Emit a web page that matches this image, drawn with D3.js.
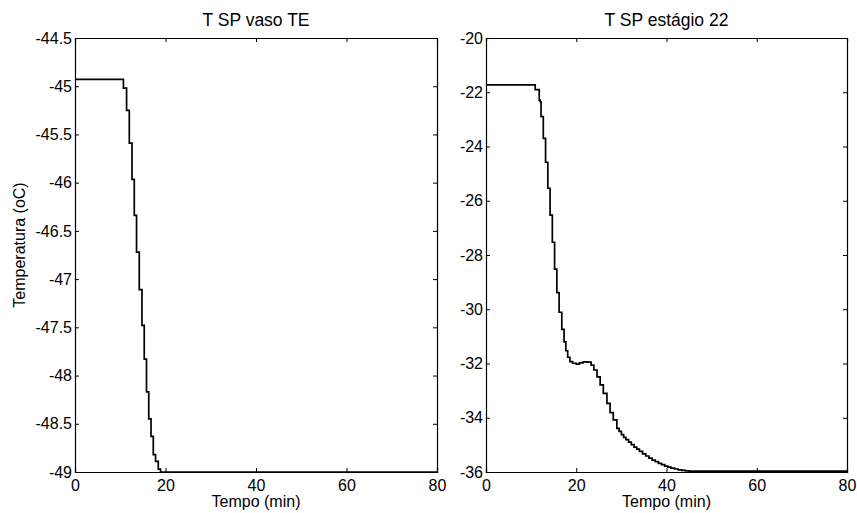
<!DOCTYPE html>
<html><head><meta charset="utf-8">
<script src="https://cdn.jsdelivr.net/npm/d3@7"></script>
<style>
html,body{margin:0;padding:0;background:#fff;}
text{font-family:"Liberation Sans",Arial,sans-serif;fill:#000;}
</style></head>
<body><svg id="chart" width="857" height="513"></svg>
<script>
// ---- data ----
const xTicks = [0, 20, 40, 60, 80];
const leftTitle = "T SP vaso TE";
const rightTitle = "T SP estágio 22";
const xLabel = "Tempo (min)";
const yLabel = "Temperatura (oC)";
const leftYTicks = [-44.5, -45, -45.5, -46, -46.5, -47, -47.5, -48, -48.5, -49];
const rightYTicks = [-20, -22, -24, -26, -28, -30, -32, -34, -36];

// left series (stairs): time (min), value
const leftT = [0, 10.7, 11.4, 12.0, 12.6, 13.1, 13.6, 14.2, 14.8, 15.3, 15.8, 16.3, 16.8, 17.3, 17.8, 18.4, 18.9, 80];
const leftV = [-44.93, -45.02, -45.25, -45.59, -45.965, -46.34, -46.72, -47.11, -47.48, -47.83, -48.17, -48.45, -48.63, -48.82, -48.89, -48.97, -49.0, -49.0];

// right series (stairs)
const rightT = [0, 10.9, 11.8, 12.0, 12.2, 12.7, 13.2, 13.7, 14.2, 14.7, 15.2, 15.7, 16.2, 16.8, 17.3, 17.7, 18.1, 18.6, 19.2, 20.0, 20.7, 21.5, 22.5, 23.3, 23.9, 24.6, 25.3, 26.0, 26.8, 27.5, 28.2,
  29.0, 29.5, 30.0, 30.5, 31.0, 31.6, 32.2, 32.8, 33.4, 34.0, 34.7, 35.4, 36.1, 36.8, 37.5, 38.2, 38.9, 39.6, 40.3, 41.0, 41.8, 42.6, 43.4, 44.2, 45.0, 80];
const rightV = [-21.73, -21.9, -22.29, -22.35, -22.9, -23.7, -24.58, -25.54, -26.53, -27.53, -28.52, -29.39, -30.11, -30.74, -31.2, -31.53, -31.77, -31.93, -31.99, -32.02, -31.98, -31.94, -31.95, -32.06, -32.24, -32.49, -32.79, -33.1, -33.47, -33.81, -34.08,
  -34.39, -34.5, -34.62, -34.72, -34.81, -34.9, -34.99, -35.08, -35.16, -35.24, -35.33, -35.41, -35.49, -35.56, -35.62, -35.68, -35.73, -35.78, -35.82, -35.86, -35.89, -35.92, -35.94, -35.96, -35.97, -35.97];

// ---- layout ----
const svg = d3.select("#chart");
const FS = 16, TFS = 17.5;
const plotTop = 38, plotBottom = 472;

function panel(x0, x1, yDomain, yTicks, T, V, title, showYLabel) {
  const x = d3.scaleLinear().domain([0, 80]).range([x0, x1]);
  const y = d3.scaleLinear().domain(yDomain).range([plotBottom, plotTop]);
  const g = svg.append("g");
  const tl = 4;
  const ax = g.append("g").attr("transform", `translate(0,${plotBottom})`)
    .call(d3.axisBottom(x).tickValues(xTicks).tickSize(-tl).tickPadding(8).tickFormat(d3.format("d")));
  ax.selectAll("text").attr("font-size", FS).attr("dy", "0.71em");
  g.append("g").attr("transform", `translate(0,${plotTop})`)
    .call(d3.axisTop(x).tickValues(xTicks).tickSize(-tl).tickFormat(""));
  const ay = g.append("g").attr("transform", `translate(${x0},0)`)
    .call(d3.axisLeft(y).tickValues(yTicks).tickSize(-tl).tickPadding(3).tickFormat(d => String(d)));
  ay.selectAll("text").attr("font-size", FS);
  g.append("g").attr("transform", `translate(${x1},0)`)
    .call(d3.axisRight(y).tickValues(yTicks).tickSize(-tl).tickFormat(""));
  g.selectAll(".domain").attr("stroke", "#000").attr("stroke-width", 1.2);
  g.selectAll(".tick line").attr("stroke", "#000").attr("stroke-width", 1);
  g.selectAll("text").attr("font-family", "Liberation Sans, Arial, sans-serif").attr("fill", "#000");

  const data = T.map((t, i) => [t, V[i]]);
  const line = d3.line().x(d => x(d[0])).y(d => y(d[1])).curve(d3.curveStepAfter);
  g.append("path").datum(data).attr("d", line)
    .attr("fill", "none").attr("stroke", "#000").attr("stroke-width", 1.7);

  g.append("text").attr("x", (x0 + x1) / 2).attr("y", 26).attr("text-anchor", "middle")
    .attr("font-size", TFS).text(title);
  g.append("text").attr("x", (x0 + x1) / 2).attr("y", 507).attr("text-anchor", "middle")
    .attr("font-size", FS).text(xLabel);
  if (showYLabel) {
    g.append("text").attr("transform", `translate(25,${(plotTop + plotBottom) / 2 - 10}) rotate(-90)`)
      .attr("text-anchor", "middle").attr("font-size", FS).text(yLabel);
  }
}

panel(75, 437, [-49, -44.5], leftYTicks, leftT, leftV, leftTitle, true);
panel(486, 847, [-36, -20], rightYTicks, rightT, rightV, rightTitle, false);
</script></body></html>
